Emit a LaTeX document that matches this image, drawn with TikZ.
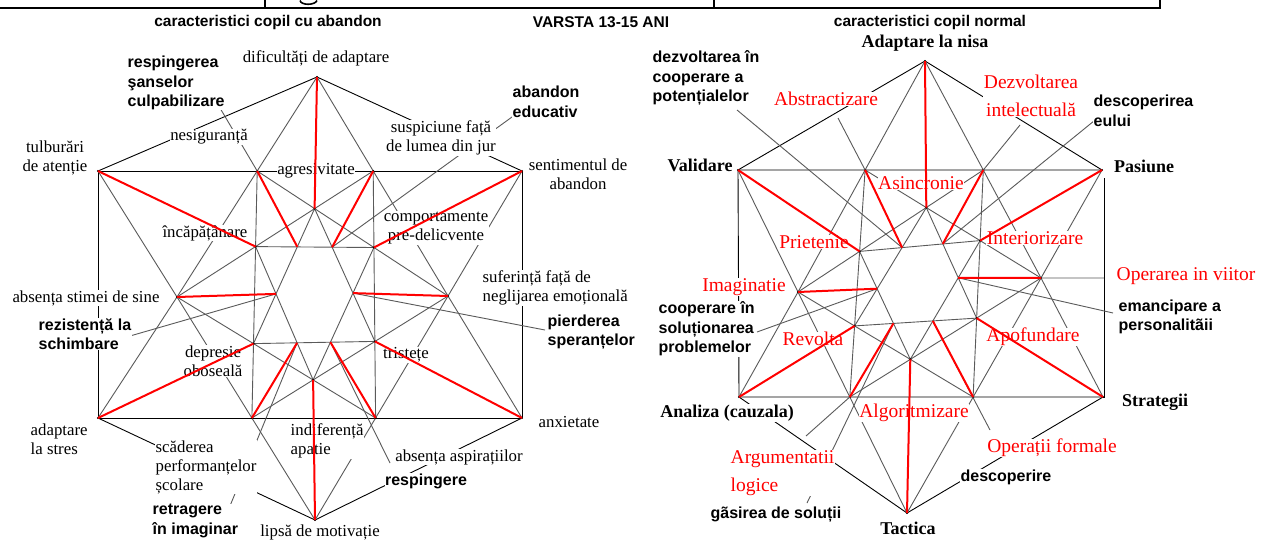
\documentclass[tikz,border=0pt]{standalone}
\usepackage{fontspec}
\setmainfont{Liberation Serif}
\setsansfont{Liberation Sans}
\definecolor{lg}{RGB}{90,90,90}
\newcommand\figlines[1]{%
  \draw[bk] (#1TL)--(#1TR) (#1BL)--(#1BR) (#1TL)--(#1BL);
  \draw[bk] (#1TL)--(#1T)--(#1TR) (#1BL)--(#1B)--(#1BR);
  \draw[gl] (#1T)--(#1L)--(#1B)--(#1R)--cycle;
  \draw[gl] (#1TL)--(#1L)--(#1BL) (#1TR)--(#1R)--(#1BR);
  \draw[gl] (#1L)--(#1P2) (#1R)--(#1P1) (#1L)--(#1Q2) (#1R)--(#1Q1);
  \draw[gl] (#1P1)--(#1Q1) (#1P2)--(#1Q2) (#1S1)--(#1S2) (#1S4)--(#1S3);
  \draw[gl] (#1S4)--(#1Ti)--(#1S3) (#1S1)--(#1Bi)--(#1S2);
  \foreach \p in {T,TL,TR,L,R,BL,BR,B,P1,P2,Q1,Q2,S1,S2,S3,S4,Ti,Bi}{\fill (#1\p) circle (1.2);}
}
\newcommand\figreds[1]{%
  \draw[rl] (#1T)--(#1Ti) (#1B)--(#1Bi) (#1L)--(#1Li) (#1R)--(#1Ri)
    (#1TL)--(#1S1) (#1TR)--(#1S2) (#1BL)--(#1S4) (#1BR)--(#1S3)
    (#1P1)--(#1A1) (#1P2)--(#1A2) (#1Q1)--(#1A4) (#1Q2)--(#1A3);
}
\begin{document}
\begin{tikzpicture}[x=1pt,y=-1pt,
  bk/.style={draw=black,line width=0.9pt},
  gl/.style={draw=lg,line width=0.9pt},
  rl/.style={draw=red,line width=2pt},
  lab/.style={font=\fontsize{16.8}{19}\selectfont,fill=white,inner sep=0.5pt,align=center},
  blab/.style={font=\sffamily\bfseries\fontsize{16}{19.5}\selectfont,fill=white,inner sep=0.5pt,align=left},
  rlab/.style={text=red,font=\fontsize{19.5}{28}\selectfont,fill=white,inner sep=0.5pt,align=center},
  klab/.style={font=\bfseries\fontsize{18}{22}\selectfont,fill=white,inner sep=0.5pt},
  hdr/.style={font=\sffamily\bfseries\fontsize{15.5}{18}\selectfont,inner sep=0pt}]
\useasboundingbox[fill=white] (0,0) rectangle (1263,539);
% top border
\draw[line width=2pt] (0,8)--(1160,8);
\draw[line width=1.5pt] (265,0)--(265,8) (714,0)--(714,8) (1160,0)--(1160,9);
\draw[line width=1.6pt] (300,0.5) .. controls (301,5.5) and (315,5.5) .. (317,0.5);
% headers
\node[hdr] (h1) at (268,22) {caracteristici copil cu abandon};
\node[hdr] (h2) at (601,22) {VARSTA 13-15 ANI};
\node[hdr] (h3) at (930,22) {caracteristici copil normal};
% ---------- left figure points
\coordinate (aT) at (317,77);   \coordinate (aTL) at (98,171);
\coordinate (aTR) at (522,171); \coordinate (aL) at (177,297);
\coordinate (aR) at (448,296);  \coordinate (aBL) at (98,418);
\coordinate (aBR) at (522,418); \coordinate (aB) at (315,520);
\coordinate (aP1) at (257.2,171); \coordinate (aP2) at (373.2,171);
\coordinate (aQ1) at (251.9,418); \coordinate (aQ2) at (375.6,418);
\coordinate (aS1) at (255.6,246.6); \coordinate (aS2) at (373.9,247.5);
\coordinate (aS3) at (374.9,341.4); \coordinate (aS4) at (253.5,343.6);
\coordinate (aTi) at (314.6,208.6); \coordinate (aBi) at (313.1,379.9);
\coordinate (aLi) at (276.0,293.9); \coordinate (aRi) at (353.0,293.1);
\coordinate (aA1) at (297.3,246.8); \coordinate (aA2) at (332.1,247.2);
\coordinate (aA3) at (330.4,342.2); \coordinate (aA4) at (297.1,342.8);
\coordinate (aRV) at (522,171);
% ---------- right figure points
\coordinate (bT) at (925,61);   \coordinate (bTL) at (738,170);
\coordinate (bTR) at (1102,170);\coordinate (bL) at (798,292);
\coordinate (bR) at (1041,278); \coordinate (bBL) at (739,397);
\coordinate (bBR) at (1103,397);\coordinate (bB) at (907,513);
\coordinate (bP1) at (865.1,170); \coordinate (bP2) at (983.3,170);
\coordinate (bQ1) at (849.8,397); \coordinate (bQ2) at (973.1,397);
\coordinate (bS1) at (859.6,251.4); \coordinate (bS2) at (980.1,240.6);
\coordinate (bS3) at (976.6,318.1); \coordinate (bS4) at (854.6,325.9);
\coordinate (bTi) at (926.3,207.6); \coordinate (bBi) at (910.3,359.3);
\coordinate (bLi) at (877.1,288.7); \coordinate (bRi) at (958.2,277.8);
\coordinate (bA1) at (902.1,247.6); \coordinate (bA2) at (942.8,243.9);
\coordinate (bA3) at (932.8,320.9); \coordinate (bA4) at (893.4,323.4);
\coordinate (bRV) at (1104,178);
% ---------- structure
\figlines{a}
\figlines{b}
\draw[bk] (aRV)--(aBR);
\draw[bk] (bRV)--(1104,397)--(bBR);
% ---------- leaders
\coordinate (c1) at (220,108); \coordinate (c2) at (512,117);
\coordinate (c3) at (123,338); \coordinate (c4) at (545,330);
\coordinate (c5) at (225,518); \coordinate (c6) at (390,463);
\draw[gl] (c1)--(aP1) (c2)--(aA2) (c3)--(aLi) (c4)--(aRi) (c5)--(aA4) (c6)--(aA3);
\coordinate (d1) at (737,110); \coordinate (d2) at (838,118);
\coordinate (d3) at (1020,125); \coordinate (d4) at (1105,112);
\coordinate (d5) at (757,332); \coordinate (d6) at (1113,313);
\coordinate (d7) at (1104,278); \coordinate (d8) at (806,436);
\coordinate (d9) at (807,503); \coordinate (d10) at (990,430);
\draw[gl] (d1)--(bA1) (d2)--(bP1) (d3)--(bP2) (d4)--(bA2) (d5)--(bLi)
  (d6)--(bRi) (bR)--(d7) (d8)--(bQ1) (d9)--(bA4) (d10)--(bA3);
% ---------- left labels
\node[lab] (l1) at (316,58) {dificultăți de adaptare};
\node[blab,anchor=west] (l2) at (127,83) {respingerea\\şanselor\\culpabilizare};
\node[lab] (l3) at (209,137) {nesiguranță};
\node[lab] (l4) at (55,158) {tulburări\\de atenție};
\node[lab] (l5) at (316,171) {agresivitate};
\node[lab] (l6) at (441,138) {suspiciune față\\de lumea din jur};
\node[blab,anchor=west] (l7) at (512,102) {abandon\\educativ};
\node[lab] (l8) at (578,174) {sentimentul de\\abandon};
\node[lab] (l9) at (205,233) {încăpățânare};
\node[lab] (l10) at (436,228) {comportamente\\pre-delicvente};
\node[lab] (l11) at (86,298) {absența stimei de sine};
\node[lab,align=left,anchor=west] (l12) at (482,288) {suferință față de\\neglijarea emoțională};
\node[blab,anchor=west] (l13) at (38,334) {rezistență la\\schimbare};
\node[blab,anchor=west] (l14) at (547,332) {pierderea\\speranțelor};
\node[lab] (l15) at (213,361) {depresie\\oboseală};
\node[lab] (l16) at (406,355) {tristețe};
\node[lab,align=left,anchor=west] (l17) at (30,439) {adaptare\\la stres};
\node[lab,align=left,anchor=west] (l18) at (155,467) {scăderea\\performanțelor\\școlare};
\node[lab,align=left,anchor=west] (l19) at (290,441) {indiferență\\apatie};
\node[lab] (l20) at (459,457) {absența aspirațiilor};
\node[blab] (l21) at (426,481) {respingere};
\node[lab] (l22) at (569,422) {anxietate};
\node[blab,anchor=west] (l23) at (152,521) {retragere\\în imaginar};
\node[lab] (l24) at (320,532) {lipsă de motivație};
% ---------- right labels
\node[klab] (r1) at (925,43) {Adaptare la nisa};
\node[blab,anchor=west] (r2) at (652,78) {dezvoltarea în\\cooperare a\\potențialelor};
\node[rlab] (r3) at (826,99) {Abstractizare};
\node[rlab] (r4) at (1031,96) {Dezvoltarea\\intelectuală};
\node[blab,anchor=west] (r5) at (1093,111) {descoperirea\\eului};
\node[klab] (r6) at (700,165) {Validare};
\node[klab] (r7) at (1144,166) {Pasiune};
\node[rlab] (r8) at (921,183) {Asincronie};
\node[rlab] (r9) at (814,242) {Prietenie};
\node[rlab] (r10) at (1035,238) {Interiorizare};
\node[rlab] (r11) at (744,287) {Imaginatie};
\node[rlab] (r12) at (1186,276) {Operarea in viitor};
\node[blab,anchor=west] (r13) at (658,329) {cooperare în\\soluționarea\\problemelor};
\node[blab,anchor=west] (r14) at (1118,317) {emancipare a\\personalitãii};
\node[rlab] (r15) at (813,339) {Revolta};
\node[rlab] (r16) at (1033,337) {Apofundare};
\node[klab] (r17) at (727,413) {Analiza (cauzala)};
\node[klab] (r18) at (1155,402) {Strategii};
\node[rlab] (r19) at (914,413) {Algoritmizare};
\node[rlab,align=left,anchor=west] (r20) at (730,473) {Argumentatii\\logice};
\node[rlab] (r21) at (1052,448) {Operații formale};
\node[blab] (r22) at (1006,477) {descoperire};
\node[blab] (r23) at (776,515) {gãsirea de soluții};
\node[klab] (r24) at (908,528) {Tactica};
% ---------- red lines on top
\figreds{a}
\figreds{b}
\end{tikzpicture}
\end{document}
